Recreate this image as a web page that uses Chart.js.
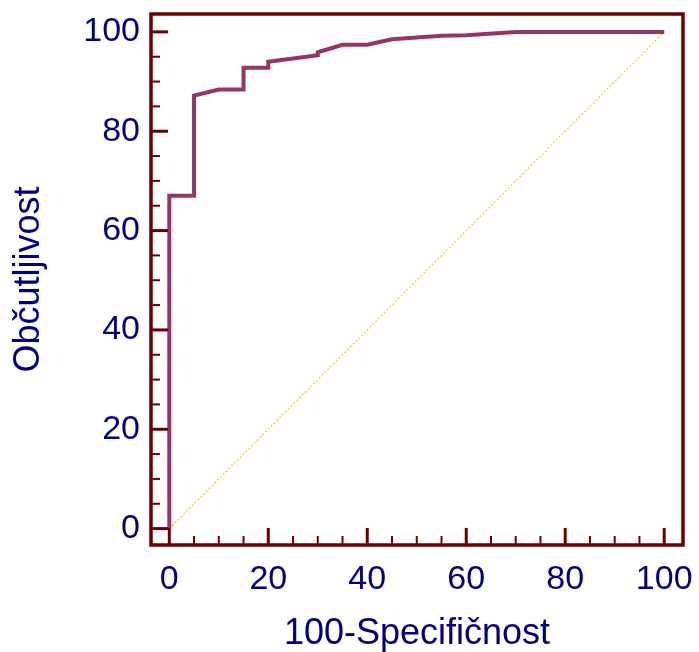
<!DOCTYPE html>
<html>
<head>
<meta charset="utf-8">
<script src="https://cdn.jsdelivr.net/npm/chart.js@4"></script>
<style>
  html, body { margin: 0; padding: 0; background: #fff; }
  #wrap { width: 699px; height: 652px; position: relative; }
</style>
</head>
<body>
<div id="wrap"><canvas id="roc"></canvas></div>
<script>
// ROC curve data
const fpr = [0, 0, 5, 5, 10, 15, 15, 20, 20, 30, 30, 35, 40, 45, 55, 60, 70, 100];
const tpr = [0, 67, 67, 87.2, 88.4, 88.4, 92.8, 92.8, 94.0, 95.3, 95.9, 97.4, 97.4, 98.5, 99.2, 99.3, 100, 100];
const diagX = [0, 100];
const diagY = [0, 100];
const xTicks = [0, 20, 40, 60, 80, 100];
const yTicks = [0, 20, 40, 60, 80, 100];
const minorStep = 5;

const NAVY = '#000080';
const FRAME = '#6b0000';
const FONT = 'Liberation Sans, Arial, sans-serif';

// frame + inward tick marks
const frameTicks = {
  id: 'frameTicks',
  afterDraw(chart) {
    const { ctx, chartArea: a, scales: { x, y } } = chart;
    ctx.save();
    ctx.strokeStyle = FRAME;
    ctx.lineCap = 'butt';
    for (let v = 0; v <= 100; v += minorStep) {
      const major = v % 20 === 0;
      ctx.lineWidth = major ? 3 : 2;
      const len = major ? 17 : 9;
      const px = x.getPixelForValue(v);
      ctx.beginPath(); ctx.moveTo(px, a.bottom); ctx.lineTo(px, a.bottom - len); ctx.stroke();
      const py = y.getPixelForValue(v);
      ctx.beginPath(); ctx.moveTo(a.left, py); ctx.lineTo(a.left + len, py); ctx.stroke();
    }
    ctx.lineWidth = 3.5;
    ctx.lineJoin = 'miter';
    ctx.strokeRect(a.left, a.top, a.right - a.left, a.bottom - a.top);
    ctx.restore();
  }
};

const noPad = (s) => { s.paddingTop = 0; s.paddingBottom = 0; s.paddingLeft = 0; s.paddingRight = 0; };

new Chart(document.getElementById('roc'), {
  type: 'scatter',
  data: {
    datasets: [
      {
        data: fpr.map((v, i) => ({ x: v, y: tpr[i] })),
        showLine: true, borderColor: '#993366', borderWidth: 4,
        pointRadius: 0, borderJoinStyle: 'miter', order: 0
      },
      {
        data: diagX.map((v, i) => ({ x: v, y: diagY[i] })),
        showLine: true, borderColor: '#ffcc00', borderWidth: 1.2,
        borderDash: [2, 2], pointRadius: 0, order: 1
      }
    ]
  },
  options: {
    responsive: true,
    maintainAspectRatio: false,
    animation: false,
    layout: { padding: { top: 14, right: 16, left: 0, bottom: 0 } },
    plugins: { legend: { display: false }, tooltip: { enabled: false } },
    scales: {
      x: {
        type: 'linear', min: -3.7, max: 103.8,
        grid: { display: false, drawTicks: false },
        border: { display: false },
        afterBuildTicks: (s) => { s.ticks = xTicks.map(v => ({ value: v })); },
        afterFit: (s) => { s.height = 107; noPad(s); },
        ticks: { color: NAVY, font: { family: FONT, size: 34 }, padding: 14, maxRotation: 0 },
        title: { display: true, text: '100-Specifičnost', color: NAVY,
                 font: { family: FONT, size: 36 }, padding: { top: 0, bottom: -4 } }
      },
      y: {
        type: 'linear', min: -3.3, max: 103.6,
        grid: { display: false, drawTicks: false },
        border: { display: false },
        afterBuildTicks: (s) => { s.ticks = yTicks.map(v => ({ value: v })); },
        afterFit: (s) => { s.width = 151; noPad(s); },
        ticks: { color: NAVY, font: { family: FONT, size: 34 }, padding: 11 },
        title: { display: true, text: 'Občutljivost', color: NAVY,
                 font: { family: FONT, size: 36 }, padding: { top: 7, bottom: 0 } }
      }
    }
  },
  plugins: [frameTicks]
});
</script>
</body>
</html>
